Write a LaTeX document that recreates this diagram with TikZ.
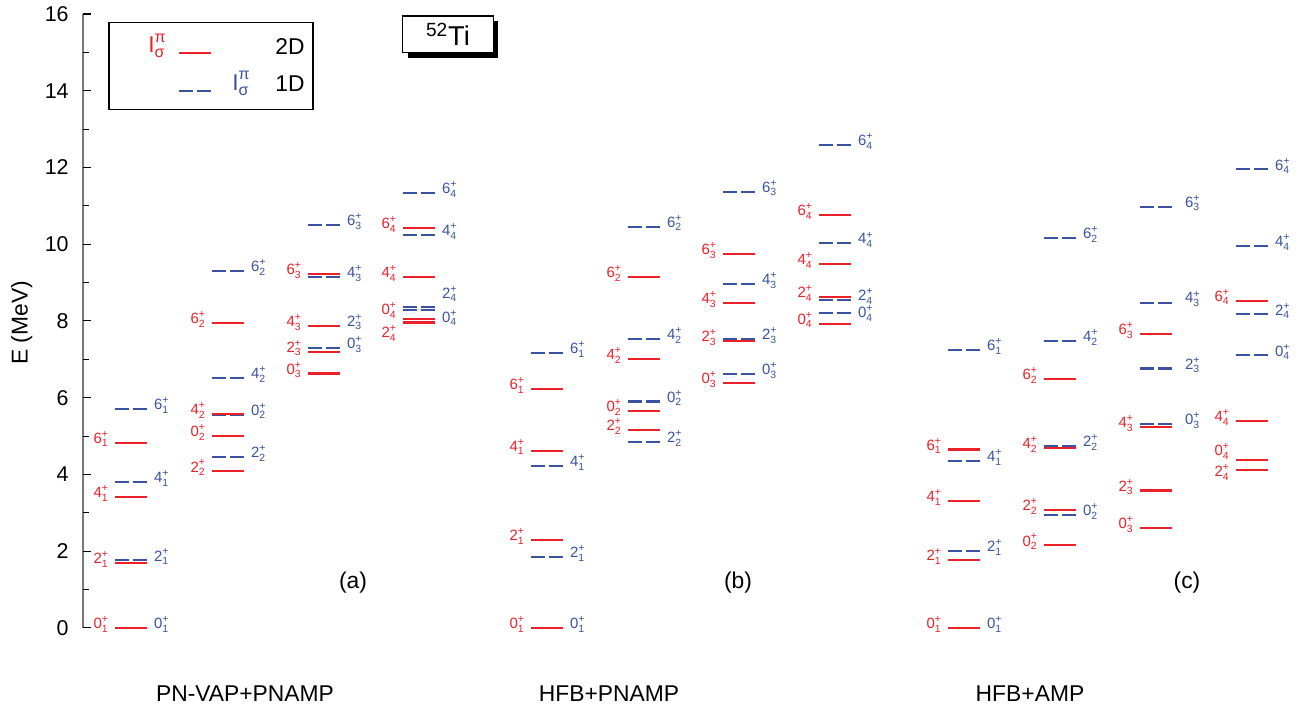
\documentclass[tikz,border=0pt]{standalone}
\usepackage{amsmath}
\usepackage{fontspec}
\setmainfont{Liberation Sans}
\usetikzlibrary{shadows}

\definecolor{lvred}{RGB}{236,32,40}
\definecolor{lvblue}{RGB}{58,82,162}
\definecolor{axisgray}{RGB}{120,120,120}

\begin{document}
\begin{tikzpicture}[
    x=0.02cm, y=0.7675cm,
    lvl2d/.style={draw=lvred, line width=1.2pt},
    lvl1d/.style={draw=lvblue, line width=1.15pt, dash pattern=on 0.28cm off 0.08cm},
    lab2d/.style={text=lvred, anchor=east, inner sep=0pt, xshift=-0.1cm, yshift=2pt, font=\fontsize{8.5}{9}\selectfont},
    lab1d/.style={text=lvblue, anchor=west, inner sep=0pt, xshift=0.12cm, yshift=2pt, font=\fontsize{8.5}{9}\selectfont},
    axtick/.style={draw=black, line width=0.6pt},
    ticklab/.style={anchor=east, inner sep=0pt, font=\fontsize{12.2}{14}\selectfont},
    caption/.style={font=\fontsize{13}{15}\selectfont},
    panel/.style={font=\fontsize{13}{15}\selectfont},
]
\useasboundingbox (0,-2.163) rectangle (1303,16.365);

% Energy axis
\draw[draw=axisgray, line width=0.7pt] (83,0) -- (83,16);
\draw[axtick] (83,0) -- +(8,0) (83,2) -- +(8,0) (83,4) -- +(8,0) (83,6) -- +(8,0)
  (83,8) -- +(8,0) (83,10) -- +(8,0) (83,12) -- +(8,0) (83,14) -- +(8,0) (83,16) -- +(8,0);
\draw[axtick] (83,1) -- +(6,0) (83,3) -- +(6,0) (83,5) -- +(6,0) (83,7) -- +(6,0)
  (83,9) -- +(6,0) (83,11) -- +(6,0) (83,13) -- +(6,0) (83,15) -- +(6,0);
\node[ticklab] (e0) at (69,0) {0};
\node[ticklab] (e2) at (69,2) {2};
\node[ticklab] (e4) at (69,4) {4};
\node[ticklab] (e6) at (69,6) {6};
\node[ticklab] (e8) at (69,8) {8};
\node[ticklab] (e10) at (69,10) {10};
\node[ticklab] (e12) at (69,12) {12};
\node[ticklab] (e14) at (69,14) {14};
\node[ticklab] (e16) at (69,16) {16};
\node[caption, rotate=90] (ylab) at (21.7,7.95) {E (MeV)};

% Legend
\node[draw, line width=0.6pt, minimum width=4.08cm, minimum height=1.754cm, inner sep=0pt] (legend) at (211,14.645) {};
\node[text=lvred, anchor=east, inner sep=0pt, font=\fontsize{13}{15}\selectfont] (leg2dI) at (167,15.17) {$\text{I}^{\text{π}}_{\text{σ}}$};
\draw[lvl2d] (179,14.99) coordinate (leg2da) -- (211,14.99) coordinate (leg2db);
\node[caption, anchor=east, inner sep=0pt] (leg2d) at (305,15.14) {2D};
\draw[lvl1d] (179,14.0) coordinate (leg1da) -- (211,14.0) coordinate (leg1db);
\node[text=lvblue, anchor=west, inner sep=0pt, font=\fontsize{13}{15}\selectfont] (leg1dI) at (232,14.19) {$\text{I}^{\text{π}}_{\text{σ}}$};
\node[caption, anchor=east, inner sep=0pt] (leg1d) at (305,14.18) {1D};

% Nucleus
\node[draw, fill=white, line width=0.6pt, minimum width=1.812cm, minimum height=0.734cm, inner sep=0pt,
  drop shadow={shadow xshift=0.1cm, shadow yshift=-0.1cm, fill=black, opacity=1},
  font=\fontsize{15.5}{17}\selectfont] (nucleus) at (448,15.47) {\textsuperscript{52}Ti};

% (a) PN-VAP+PNAMP
\draw[lvl1d] (115,0) -- +(32,0) node[lab1d] (ab01) {$\text{0}^{\text{+}}_{\text{1}}$};
\draw[lvl2d] (115,0) node[lab2d] (ar01) {$\text{0}^{\text{+}}_{\text{1}}$} -- +(32,0);
\draw[lvl1d] (115,1.76) -- +(32,0) node[lab1d] (ab21) {$\text{2}^{\text{+}}_{\text{1}}$};
\draw[lvl2d] (115,1.70) node[lab2d] (ar21) {$\text{2}^{\text{+}}_{\text{1}}$} -- +(32,0);
\draw[lvl1d] (115,3.81) -- +(32,0) node[lab1d] (ab41) {$\text{4}^{\text{+}}_{\text{1}}$};
\draw[lvl2d] (115,3.42) node[lab2d] (ar41) {$\text{4}^{\text{+}}_{\text{1}}$} -- +(32,0);
\draw[lvl1d] (115,5.71) -- +(32,0) node[lab1d] (ab61) {$\text{6}^{\text{+}}_{\text{1}}$};
\draw[lvl2d] (115,4.83) node[lab2d] (ar61) {$\text{6}^{\text{+}}_{\text{1}}$} -- +(32,0);

\draw[lvl1d] (212,4.46) -- +(32,0) node[lab1d] (ab22) {$\text{2}^{\text{+}}_{\text{2}}$};
\draw[lvl2d] (212,4.08) node[lab2d] (ar22) {$\text{2}^{\text{+}}_{\text{2}}$} -- +(32,0);
\draw[lvl1d] (212,5.56) -- +(32,0) node[lab1d] (ab02) {$\text{0}^{\text{+}}_{\text{2}}$};
\draw[lvl2d] (212,5.01) node[lab2d] (ar02) {$\text{0}^{\text{+}}_{\text{2}}$} -- +(32,0);
\draw[lvl2d] (212,5.58) node[lab2d] (ar42) {$\text{4}^{\text{+}}_{\text{2}}$} -- +(32,0);
\draw[lvl1d] (212,6.51) -- +(32,0) node[lab1d] (ab42) {$\text{4}^{\text{+}}_{\text{2}}$};
\draw[lvl2d] (212,7.94) node[lab2d] (ar62) {$\text{6}^{\text{+}}_{\text{2}}$} -- +(32,0);
\draw[lvl1d] (212,9.30) -- +(32,0) node[lab1d] (ab62) {$\text{6}^{\text{+}}_{\text{2}}$};

\draw[lvl2d] (308,6.63) node[lab2d] (ar03) {$\text{0}^{\text{+}}_{\text{3}}$} -- +(32,0);
\draw[lvl2d] (308,7.20) node[lab2d] (ar23) {$\text{2}^{\text{+}}_{\text{3}}$} -- +(32,0);
\draw[lvl1d] (308,7.29) -- +(32,0) node[lab1d] (ab03) {$\text{0}^{\text{+}}_{\text{3}}$};
\draw[lvl1d] (308,7.88) -- +(32,0) node[lab1d] (ab23) {$\text{2}^{\text{+}}_{\text{3}}$};
\draw[lvl2d] (308,7.87) node[lab2d] (ar43) {$\text{4}^{\text{+}}_{\text{3}}$} -- +(32,0);
\draw[lvl1d] (308,9.14) -- +(32,0) node[lab1d] (ab43) {$\text{4}^{\text{+}}_{\text{3}}$};
\draw[lvl2d] (308,9.23) node[lab2d] (ar63) {$\text{6}^{\text{+}}_{\text{3}}$} -- +(32,0);
\draw[lvl1d] (308,10.50) -- +(32,0) node[lab1d] (ab63) {$\text{6}^{\text{+}}_{\text{3}}$};

\draw[lvl2d] (403,7.96) node[lab2d, yshift=-8.2pt] (ar24) {$\text{2}^{\text{+}}_{\text{4}}$} -- +(32,0);
\draw[lvl2d] (403,8.04) node[lab2d, yshift=3.1pt] (ar04) {$\text{0}^{\text{+}}_{\text{4}}$} -- +(32,0);
\draw[lvl1d] (403,8.28) -- +(32,0) node[lab1d, yshift=-6.5pt] (ab04) {$\text{0}^{\text{+}}_{\text{4}}$};
\draw[lvl1d] (403,8.36) -- +(32,0) node[lab1d, yshift=5.4pt] (ab24) {$\text{2}^{\text{+}}_{\text{4}}$};
\draw[lvl2d] (403,9.14) node[lab2d] (ar44) {$\text{4}^{\text{+}}_{\text{4}}$} -- +(32,0);
\draw[lvl1d] (403,10.24) -- +(32,0) node[lab1d] (ab44) {$\text{4}^{\text{+}}_{\text{4}}$};
\draw[lvl2d] (403,10.43) node[lab2d] (ar64) {$\text{6}^{\text{+}}_{\text{4}}$} -- +(32,0);
\draw[lvl1d] (403,11.33) -- +(32,0) node[lab1d] (ab64) {$\text{6}^{\text{+}}_{\text{4}}$};

% (b) HFB+PNAMP
\draw[lvl1d] (531,0) -- +(32,0) node[lab1d] (bb01) {$\text{0}^{\text{+}}_{\text{1}}$};
\draw[lvl2d] (531,0) node[lab2d] (br01) {$\text{0}^{\text{+}}_{\text{1}}$} -- +(32,0);
\draw[lvl1d] (531,1.85) -- +(32,0) node[lab1d] (bb21) {$\text{2}^{\text{+}}_{\text{1}}$};
\draw[lvl2d] (531,2.29) node[lab2d] (br21) {$\text{2}^{\text{+}}_{\text{1}}$} -- +(32,0);
\draw[lvl1d] (531,4.21) -- +(32,0) node[lab1d] (bb41) {$\text{4}^{\text{+}}_{\text{1}}$};
\draw[lvl2d] (531,4.62) node[lab2d] (br41) {$\text{4}^{\text{+}}_{\text{1}}$} -- +(32,0);
\draw[lvl2d] (531,6.22) node[lab2d] (br61) {$\text{6}^{\text{+}}_{\text{1}}$} -- +(32,0);
\draw[lvl1d] (531,7.17) -- +(32,0) node[lab1d] (bb61) {$\text{6}^{\text{+}}_{\text{1}}$};

\draw[lvl1d] (628,4.84) -- +(32,0) node[lab1d] (bb22) {$\text{2}^{\text{+}}_{\text{2}}$};
\draw[lvl2d] (628,5.15) node[lab2d] (br22) {$\text{2}^{\text{+}}_{\text{2}}$} -- +(32,0);
\draw[lvl2d] (628,5.66) node[lab2d] (br02) {$\text{0}^{\text{+}}_{\text{2}}$} -- +(32,0);
\draw[lvl1d] (628,5.90) -- +(32,0) node[lab1d] (bb02) {$\text{0}^{\text{+}}_{\text{2}}$};
\draw[lvl2d] (628,7.00) node[lab2d] (br42) {$\text{4}^{\text{+}}_{\text{2}}$} -- +(32,0);
\draw[lvl1d] (628,7.53) -- +(32,0) node[lab1d] (bb42) {$\text{4}^{\text{+}}_{\text{2}}$};
\draw[lvl2d] (628,9.15) node[lab2d] (br62) {$\text{6}^{\text{+}}_{\text{2}}$} -- +(32,0);
\draw[lvl1d] (628,10.46) -- +(32,0) node[lab1d] (bb62) {$\text{6}^{\text{+}}_{\text{2}}$};

\draw[lvl2d] (723,6.39) node[lab2d] (br03) {$\text{0}^{\text{+}}_{\text{3}}$} -- +(32,0);
\draw[lvl1d] (723,6.61) -- +(32,0) node[lab1d] (bb03) {$\text{0}^{\text{+}}_{\text{3}}$};
\draw[lvl1d] (723,7.53) -- +(32,0) node[lab1d] (bb23) {$\text{2}^{\text{+}}_{\text{3}}$};
\draw[lvl2d] (723,7.48) node[lab2d] (br23) {$\text{2}^{\text{+}}_{\text{3}}$} -- +(32,0);
\draw[lvl2d] (723,8.47) node[lab2d] (br43) {$\text{4}^{\text{+}}_{\text{3}}$} -- +(32,0);
\draw[lvl1d] (723,8.97) -- +(32,0) node[lab1d] (bb43) {$\text{4}^{\text{+}}_{\text{3}}$};
\draw[lvl2d] (723,9.75) node[lab2d] (br63) {$\text{6}^{\text{+}}_{\text{3}}$} -- +(32,0);
\draw[lvl1d] (723,11.37) -- +(32,0) node[lab1d] (bb63) {$\text{6}^{\text{+}}_{\text{3}}$};

\draw[lvl2d] (819,7.93) node[lab2d] (br04) {$\text{0}^{\text{+}}_{\text{4}}$} -- +(32,0);
\draw[lvl1d] (819,8.20) -- +(32,0) node[lab1d, yshift=-2pt] (bb04) {$\text{0}^{\text{+}}_{\text{4}}$};
\draw[lvl1d] (819,8.55) -- +(32,0) node[lab1d] (bb24) {$\text{2}^{\text{+}}_{\text{4}}$};
\draw[lvl2d] (819,8.63) node[lab2d] (br24) {$\text{2}^{\text{+}}_{\text{4}}$} -- +(32,0);
\draw[lvl2d] (819,9.49) node[lab2d] (br44) {$\text{4}^{\text{+}}_{\text{4}}$} -- +(32,0);
\draw[lvl1d] (819,10.02) -- +(32,0) node[lab1d] (bb44) {$\text{4}^{\text{+}}_{\text{4}}$};
\draw[lvl2d] (819,10.76) node[lab2d] (br64) {$\text{6}^{\text{+}}_{\text{4}}$} -- +(32,0);
\draw[lvl1d] (819,12.59) -- +(32,0) node[lab1d] (bb64) {$\text{6}^{\text{+}}_{\text{4}}$};

% (c) HFB+AMP
\draw[lvl1d] (948,0) -- +(32,0) node[lab1d] (cb01) {$\text{0}^{\text{+}}_{\text{1}}$};
\draw[lvl2d] (948,0) node[lab2d] (cr01) {$\text{0}^{\text{+}}_{\text{1}}$} -- +(32,0);
\draw[lvl2d] (948,1.77) node[lab2d] (cr21) {$\text{2}^{\text{+}}_{\text{1}}$} -- +(32,0);
\draw[lvl1d] (948,2.01) -- +(32,0) node[lab1d] (cb21) {$\text{2}^{\text{+}}_{\text{1}}$};
\draw[lvl2d] (948,3.31) node[lab2d] (cr41) {$\text{4}^{\text{+}}_{\text{1}}$} -- +(32,0);
\draw[lvl1d] (948,4.34) -- +(32,0) node[lab1d] (cb41) {$\text{4}^{\text{+}}_{\text{1}}$};
\draw[lvl2d] (948,4.65) node[lab2d] (cr61) {$\text{6}^{\text{+}}_{\text{1}}$} -- +(32,0);
\draw[lvl1d] (948,7.25) -- +(32,0) node[lab1d] (cb61) {$\text{6}^{\text{+}}_{\text{1}}$};

\draw[lvl2d] (1044,2.15) node[lab2d] (cr02) {$\text{0}^{\text{+}}_{\text{2}}$} -- +(32,0);
\draw[lvl1d] (1044,2.95) -- +(32,0) node[lab1d] (cb02) {$\text{0}^{\text{+}}_{\text{2}}$};
\draw[lvl2d] (1044,3.07) node[lab2d] (cr22) {$\text{2}^{\text{+}}_{\text{2}}$} -- +(32,0);
\draw[lvl1d] (1044,4.74) -- +(32,0) node[lab1d] (cb22) {$\text{2}^{\text{+}}_{\text{2}}$};
\draw[lvl2d] (1044,4.69) node[lab2d] (cr42) {$\text{4}^{\text{+}}_{\text{2}}$} -- +(32,0);
\draw[lvl2d] (1044,6.49) node[lab2d] (cr62) {$\text{6}^{\text{+}}_{\text{2}}$} -- +(32,0);
\draw[lvl1d] (1044,7.48) -- +(32,0) node[lab1d] (cb42) {$\text{4}^{\text{+}}_{\text{2}}$};
\draw[lvl1d] (1044,10.17) -- +(32,0) node[lab1d] (cb62) {$\text{6}^{\text{+}}_{\text{2}}$};

\draw[lvl2d] (1140,2.61) node[lab2d] (cr03) {$\text{0}^{\text{+}}_{\text{3}}$} -- +(32,0);
\draw[lvl2d] (1140,3.58) node[lab2d] (cr23) {$\text{2}^{\text{+}}_{\text{3}}$} -- +(32,0);
\draw[lvl1d] (1140,5.32) -- +(32,0) node[lab1d, xshift=0.12cm] (cb03) {$\text{0}^{\text{+}}_{\text{3}}$};
\draw[lvl2d] (1140,5.23) node[lab2d] (cr43) {$\text{4}^{\text{+}}_{\text{3}}$} -- +(32,0);
\draw[lvl1d] (1140,6.76) -- +(32,0) node[lab1d, xshift=0.12cm] (cb23) {$\text{2}^{\text{+}}_{\text{3}}$};
\draw[lvl2d] (1140,7.65) node[lab2d] (cr63) {$\text{6}^{\text{+}}_{\text{3}}$} -- +(32,0);
\draw[lvl1d] (1140,8.48) -- +(32,0) node[lab1d, xshift=0.12cm] (cb43) {$\text{4}^{\text{+}}_{\text{3}}$};
\draw[lvl1d] (1140,10.98) -- +(32,0) node[lab1d, xshift=0.12cm] (cb63) {$\text{6}^{\text{+}}_{\text{3}}$};

\draw[lvl2d] (1236,4.12) node[lab2d, yshift=-3.4pt] (cr24) {$\text{2}^{\text{+}}_{\text{4}}$} -- +(32,0);
\draw[lvl2d] (1236,4.38) node[lab2d, yshift=2.7pt] (cr04) {$\text{0}^{\text{+}}_{\text{4}}$} -- +(32,0);
\draw[lvl2d] (1236,5.40) node[lab2d] (cr44) {$\text{4}^{\text{+}}_{\text{4}}$} -- +(32,0);
\draw[lvl1d] (1236,7.10) -- +(32,0) node[lab1d] (cb04) {$\text{0}^{\text{+}}_{\text{4}}$};
\draw[lvl1d] (1236,8.17) -- +(32,0) node[lab1d] (cb24) {$\text{2}^{\text{+}}_{\text{4}}$};
\draw[lvl2d] (1236,8.53) node[lab2d] (cr64) {$\text{6}^{\text{+}}_{\text{4}}$} -- +(32,0);
\draw[lvl1d] (1236,9.95) -- +(32,0) node[lab1d] (cb44) {$\text{4}^{\text{+}}_{\text{4}}$};
\draw[lvl1d] (1236,11.95) -- +(32,0) node[lab1d] (cb64) {$\text{6}^{\text{+}}_{\text{4}}$};

% Panel tags and methods
\node[panel] (taga) at (353,1.17) {(a)};
\node[panel] (tagb) at (738,1.17) {(b)};
\node[panel] (tagc) at (1187,1.17) {(c)};
\node[caption] (metha) at (245,-1.72) {PN-VAP+PNAMP};
\node[caption] (methb) at (609,-1.72) {HFB+PNAMP};
\node[caption] (methc) at (1030,-1.72) {HFB+AMP};

\end{tikzpicture}
\end{document}
